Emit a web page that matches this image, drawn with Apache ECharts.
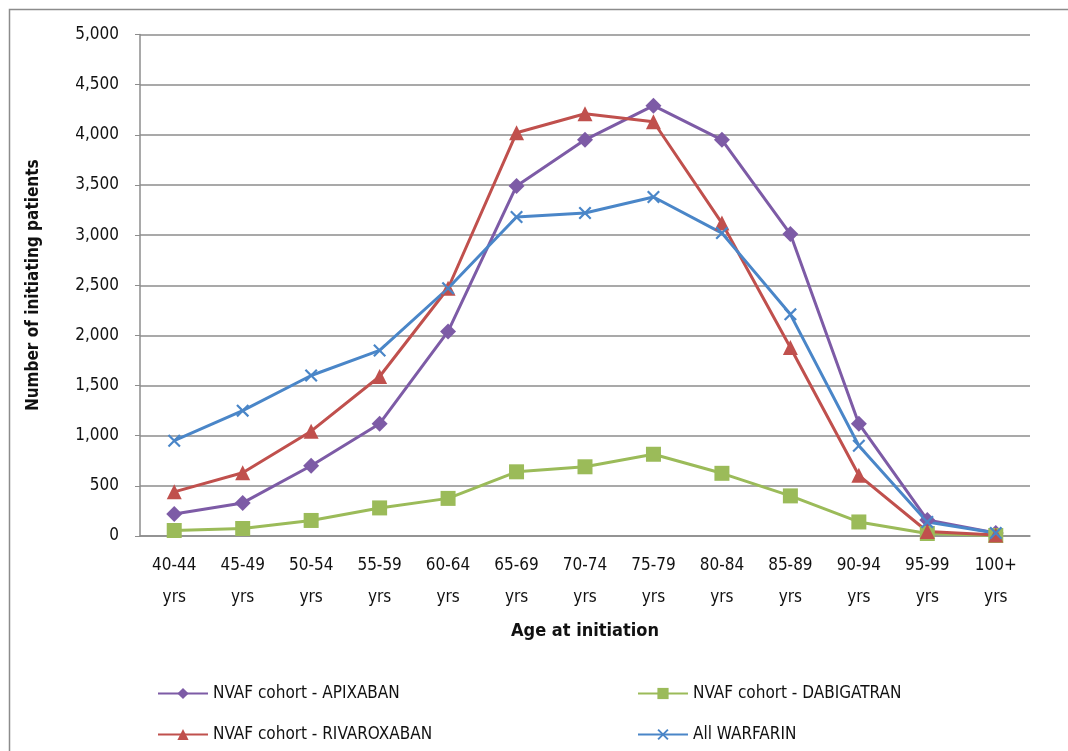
<!DOCTYPE html>
<html>
<head>
<meta charset="utf-8">
<script src="https://cdn.jsdelivr.net/npm/echarts@6/dist/echarts.min.js"></script>
<style>html,body{margin:0;padding:0;background:#fff}#c{width:1068px;height:751px}</style>
</head>
<body>
<div id="c"></div>
<script>
const categories = ['40-44\nyrs','45-49\nyrs','50-54\nyrs','55-59\nyrs','60-64\nyrs','65-69\nyrs','70-74\nyrs','75-79\nyrs','80-84\nyrs','85-89\nyrs','90-94\nyrs','95-99\nyrs','100+\nyrs'];
const apixaban    = [220, 330, 700, 1120, 2040, 3490, 3950, 4290, 3950, 3010, 1120, 160, 30];
const dabigatran  = [55, 75, 155, 280, 375, 640, 690, 815, 625, 400, 140, 25, 5];
const rivaroxaban = [440, 630, 1045, 1590, 2470, 4020, 4210, 4130, 3120, 1880, 605, 45, 10];
const warfarin    = [950, 1250, 1600, 1850, 2470, 3180, 3220, 3380, 3020, 2210, 900, 140, 30];
const names = ['NVAF cohort - APIXABAN','NVAF cohort - DABIGATRAN','NVAF cohort - RIVAROXABAN','All WARFARIN'];

const font = "'Liberation Sans Narrow','DejaVu Sans Condensed','Liberation Sans',sans-serif";
const xSym = 'path://M0,1.2 L1.2,0 L10,8.8 L8.8,10 Z M8.8,0 L10,1.2 L1.2,10 L0,8.8 Z';

const chart = echarts.init(document.getElementById('c'));
function mk(name, data, color, symbol, size) {
  return {
    name, type: 'line', data, symbol, symbolSize: size,
    lineStyle: { color, width: 3 },
    itemStyle: { color },
    z: 3
  };
}
chart.setOption({
  animation: false,
  textStyle: { fontFamily: font },
  graphic: [{
    type: 'rect', left: 7, top: 7, shape: { x: 0, y: 0, width: 1080, height: 780 },
    style: { fill: 'none', stroke: '#8c8c8c', lineWidth: 1.5 }, z: -1
  }],
  grid: { left: 140, right: 38, top: 34.5, bottom: 215, containLabel: false },
  xAxis: {
    type: 'category', data: categories, boundaryGap: true,
    name: 'Age at initiation', nameLocation: 'middle', nameGap: 86,
    nameTextStyle: { fontSize: 18, fontWeight: 'bold', color: '#111', fontFamily: font },
    axisLine: { show: true, lineStyle: { color: '#8c8c8c', width: 1.5 } },
    axisTick: { show: false },
    axisLabel: { fontSize: 17, color: '#111', lineHeight: 32, margin: 14, interval: 0, fontFamily: font }
  },
  yAxis: {
    type: 'value', min: 0, max: 5000, interval: 500,
    name: 'Number of initiating patients', nameLocation: 'middle', nameGap: 98, nameRotate: 90,
    nameTextStyle: { fontSize: 17, fontWeight: 'bold', color: '#111', fontFamily: font },
    axisLine: { show: true, lineStyle: { color: '#8c8c8c', width: 1.5 } },
    axisTick: { show: true, length: 5, lineStyle: { color: '#8c8c8c' } },
    splitLine: { lineStyle: { color: '#8c8c8c', width: 1.5 } },
    axisLabel: { fontSize: 17, color: '#111', margin: 21, fontFamily: font,
      formatter: v => v.toLocaleString('en-US') }
  },
  legend: [{
    data: [names[0], names[2]], orient: 'vertical', left: 152, top: 680,
    itemWidth: 50, itemHeight: 14, itemGap: 24,
    textStyle: { fontSize: 17, color: '#111', fontFamily: font }
  }, {
    data: [names[1], names[3]], orient: 'vertical', left: 632, top: 680,
    itemWidth: 50, itemHeight: 14, itemGap: 24,
    textStyle: { fontSize: 17, color: '#111', fontFamily: font }
  }],
  series: [
    mk(names[0], apixaban, '#7d5ba6', 'diamond', 16),
    mk(names[1], dabigatran, '#9bbb59', 'rect', 15),
    mk(names[2], rivaroxaban, '#c0504d', 'triangle', 15),
    mk(names[3], warfarin, '#4a86c8', xSym, 13)
  ]
});
</script>
</body>
</html>
